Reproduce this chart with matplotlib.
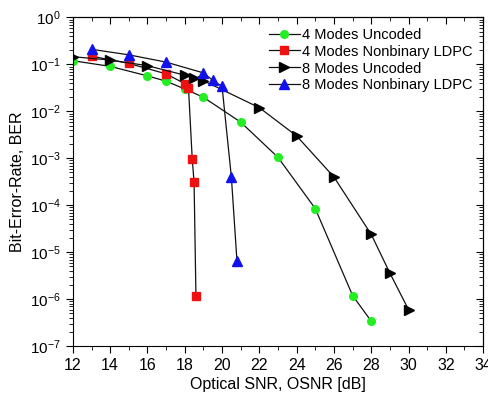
import matplotlib
matplotlib.use("Agg")
import matplotlib.pyplot as plt
from matplotlib.ticker import MultipleLocator, LogLocator, NullFormatter

plt.rcParams['font.family'] = ['Liberation Sans', 'DejaVu Sans']
plt.rcParams['mathtext.fontset'] = 'custom'
plt.rcParams['mathtext.rm'] = 'Liberation Sans'

# 4 Modes Uncoded
osnr_4u = [12, 14, 16, 17, 18, 19, 21, 23, 25, 27, 28]
ber_4u = [0.12, 0.091, 0.057, 0.044, 0.030, 0.020, 0.0059, 1.05e-3, 8.5e-5, 1.2e-6, 3.4e-7]

# 4 Modes Nonbinary LDPC
osnr_4c = [13, 15, 17, 18, 18.2, 18.4, 18.5, 18.6]
ber_4c = [0.15, 0.105, 0.063, 0.039, 0.032, 9.8e-4, 3.1e-4, 1.2e-6]

# 8 Modes Uncoded
osnr_8u = [12, 14, 16, 18, 18.5, 19, 22, 24, 26, 28, 29, 30]
ber_8u = [0.146, 0.124, 0.094, 0.059, 0.052, 0.045, 0.012, 3.0e-3, 4.0e-4, 2.4e-5, 3.6e-6, 6.0e-7]

# 8 Modes Nonbinary LDPC
osnr_8c = [13, 15, 17, 19, 19.5, 20, 20.5, 20.8]
ber_8c = [0.21, 0.16, 0.112, 0.066, 0.046, 0.034, 4.0e-4, 6.5e-6]

fig = plt.figure(figsize=(4.89, 3.97), dpi=100)
ax = fig.add_axes([0.149, 0.128, 0.839, 0.828])

ms = 5.5
ax.plot(osnr_4u, ber_4u, '-', color='#111111', lw=0.9, marker='o', ms=ms,
        mfc='#22ee22', mec='#22ee22', label='4 Modes Uncoded')
ax.plot(osnr_4c, ber_4c, '-', color='#111111', lw=0.9, marker='s', ms=ms,
        mfc='#ee1111', mec='#ee1111', label='4 Modes Nonbinary LDPC')
ax.plot(osnr_8u, ber_8u, '-', color='#111111', lw=0.9, marker='>', ms=ms + 1,
        mfc='black', mec='black', label='8 Modes Uncoded')
ax.plot(osnr_8c, ber_8c, '-', color='#111111', lw=0.9, marker='^', ms=ms + 1,
        mfc='#1111ee', mec='#1111ee', label='8 Modes Nonbinary LDPC')

ax.set_yscale('log')
ax.set_xlim(12, 34)
ax.set_ylim(1e-7, 1)
ax.xaxis.set_major_locator(MultipleLocator(2))
ax.xaxis.set_minor_locator(MultipleLocator(1))
ax.yaxis.set_major_locator(LogLocator(base=10, numticks=10))
ax.yaxis.set_minor_locator(LogLocator(base=10, subs=range(2, 10), numticks=20))
ax.yaxis.set_minor_formatter(NullFormatter())

ax.tick_params(which='both', direction='out', top=False, right=False)
ax.tick_params(axis='x', labelsize=11.5)
ax.tick_params(axis='y', labelsize=11)
ax.tick_params(which='major', length=5)
ax.tick_params(which='minor', length=3)
ax2 = ax.secondary_xaxis('top')
ax2.xaxis.set_major_locator(MultipleLocator(2))
ax2.xaxis.set_minor_locator(MultipleLocator(1))
ax2.tick_params(which='both', direction='in', labeltop=False)
ax2.tick_params(which='major', length=5)
ax2.tick_params(which='minor', length=3)
ax3 = ax.secondary_yaxis('right')
ax3.tick_params(which='both', direction='in', labelright=False)
ax3.tick_params(which='major', length=5)
ax3.tick_params(which='minor', length=3)

ax.set_xlabel('Optical SNR, OSNR [dB]', fontsize=11.5, labelpad=3)
ax.set_ylabel('Bit-Error-Rate, BER', fontsize=11.5)

ax.legend(loc='upper right', frameon=False, fontsize=10.5, handlelength=2.1,
          handletextpad=0.2, labelspacing=0.2, borderaxespad=0.3)

fig.savefig('out.png', dpi=100)
